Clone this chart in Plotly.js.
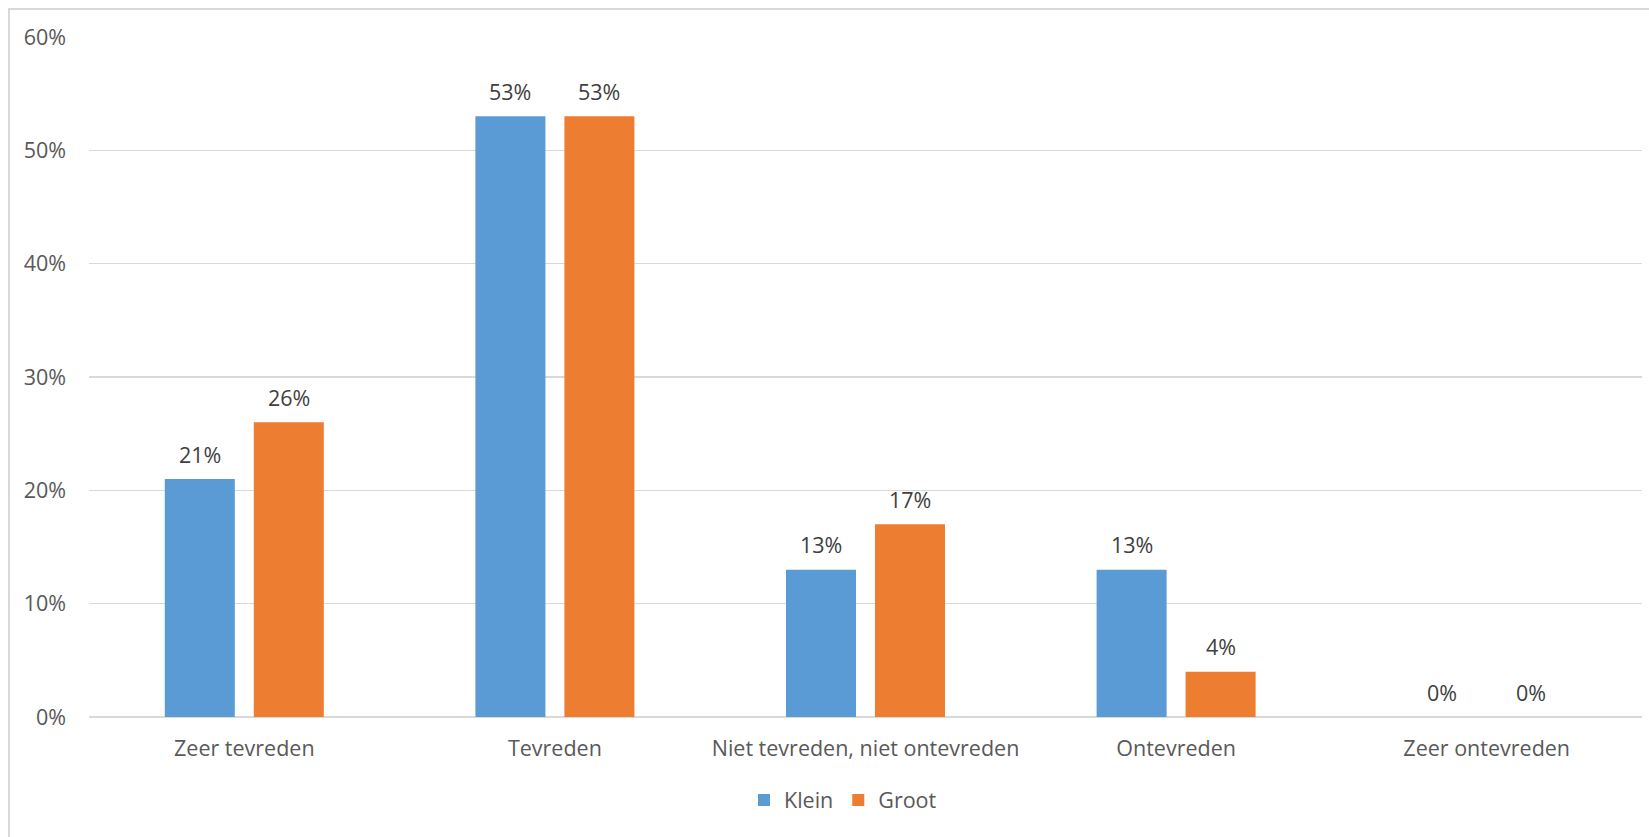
<!DOCTYPE html>
<html>
<head>
<meta charset="utf-8">
<script src="https://cdn.plot.ly/plotly-3.0.1.min.js"></script>
<style>
  html, body { margin: 0; padding: 0; background: #fff; overflow: hidden; }
  #frame { position: absolute; left: 8px; top: 8px; width: 1700px; height: 900px;
           border: 2px solid #d9d9d9; box-sizing: border-box; }
  #chart { position: absolute; left: 0; top: 0; width: 1649px; height: 837px; }
</style>
</head>
<body>
<div id="frame"></div>
<div id="chart"></div>
<script>
// Satisfaction per answer category, small vs. large
const categories = ["Zeer tevreden", "Tevreden", "Niet tevreden, niet ontevreden", "Ontevreden", "Zeer ontevreden"];
const klein = [0.21, 0.53, 0.13, 0.13, 0.00];
const groot = [0.26, 0.53, 0.17, 0.04, 0.00];
const seriesNames = ["Klein", "Groot"];
const yTicks = [0, 0.1, 0.2, 0.3, 0.4, 0.5, 0.6];
const yTickText = ["0%", "10%", "20%", "30%", "40%", "50%", "60%"];

const fontFamily = "'Open Sans', sans-serif";
const fontSize = 21.5;
const textColor = "#595959";
const colors = ["#5B9BD5", "#ED7D31"];

const pct = v => Math.round(v * 100) + "%";

const traces = [klein, groot].map((vals, i) => ({
  type: "bar",
  name: seriesNames[i],
  x: categories,
  y: vals,
  marker: { color: colors[i] },
  hoverinfo: "skip"
}));

// value labels above each bar
const annotations = [];
[klein, groot].forEach((vals, i) => {
  vals.forEach((v, j) => {
    annotations.push({
      x: categories[j], y: v, xref: "x", yref: "y",
      text: pct(v), showarrow: false,
      xshift: i === 0 ? -44.5 : 44.5, yshift: 25,
      font: { family: fontFamily, size: fontSize, color: "#404040" }
    });
  });
});

const layout = {
  width: 1649, height: 837,
  margin: { l: 89, r: 7, t: 37, b: 120 },
  paper_bgcolor: "rgba(0,0,0,0)",
  plot_bgcolor: "#fff",
  barmode: "group",
  bargap: 0.427,
  bargroupgap: 0.213,
  font: { family: fontFamily, size: fontSize, color: textColor },
  xaxis: {
    type: "category",
    showgrid: false,
    showline: false,
    zeroline: false,
    ticks: "",
    ticklabelstandoff: 16,
    tickfont: { family: fontFamily, size: fontSize, color: textColor }
  },
  yaxis: {
    range: [0, 0.6],
    tickvals: yTicks,
    ticktext: yTickText,
    showgrid: true,
    gridcolor: "#d9d9d9",
    gridwidth: 1.5,
    zeroline: true,
    zerolinecolor: "#d9d9d9",
    zerolinewidth: 1.5,
    showline: false,
    ticks: "",
    ticklabelstandoff: 22,
    tickfont: { family: fontFamily, size: fontSize, color: textColor },
    fixedrange: true
  },
  showlegend: true,
  legend: {
    orientation: "h",
    x: 0.4855, xanchor: "center",
    y: -0.122, yanchor: "middle",
    font: { family: fontFamily, size: fontSize, color: textColor },
    itemwidth: 30,
    traceorder: "normal"
  },
  annotations: annotations
};

Plotly.newPlot("chart", traces, layout, { displayModeBar: false, staticPlot: true });
</script>
</body>
</html>
